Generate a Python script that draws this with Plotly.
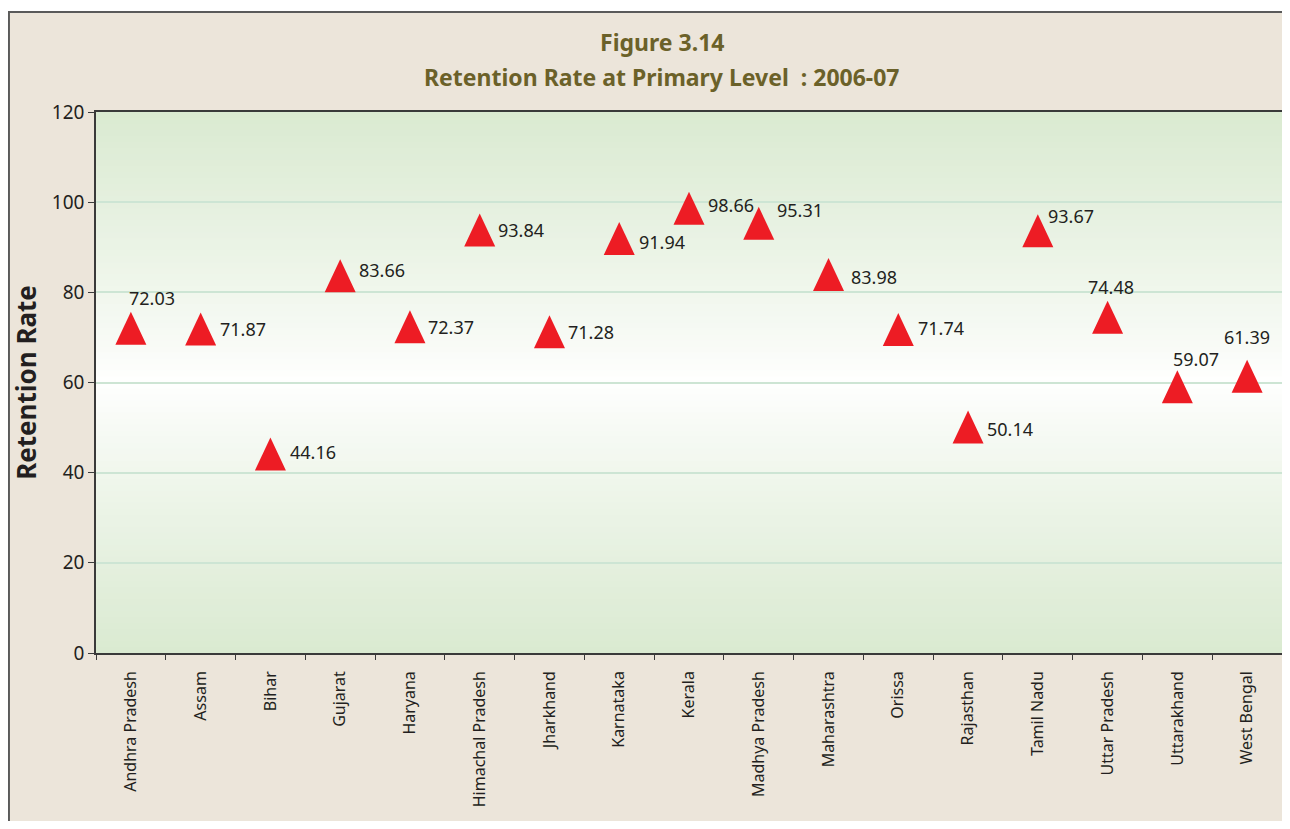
import plotly.graph_objects as go

# Retention rate at primary level, 2006-07
states = ["Andhra Pradesh", "Assam", "Bihar", "Gujarat", "Haryana",
          "Himachal Pradesh", "Jharkhand", "Karnataka", "Kerala",
          "Madhya Pradesh", "Maharashtra", "Orissa", "Rajasthan",
          "Tamil Nadu", "Uttar Pradesh", "Uttarakhand", "West Bengal"]
retention = [72.03, 71.87, 44.16, 83.66, 72.37, 93.84, 71.28, 91.94, 98.66,
             95.31, 83.98, 71.74, 50.14, 93.67, 74.48, 59.07, 61.39]
y_ticks = [0, 20, 40, 60, 80, 100, 120]

FONT = "Noto Sans"
BEIGE = "#ece5da"
RED = "#ed1c24"

# where each value label sits relative to its marker (anchor, dx, dy in px)
label_offsets = [("left", -4, 30), ("left", 17, 0), ("left", 18, 2),
                 ("left", 17, 6), ("left", 16, 0), ("left", 16, 0),
                 ("left", 17, 0), ("left", 18, -3), ("left", 17, 3),
                 ("left", 16, 13), ("left", 20, -3), ("left", 18, 2),
                 ("left", 17, -2), ("left", 8, 15), ("center", 3, 30),
                 ("center", 19, 28), ("center", 0, 39)]

fig = go.Figure()
fig.add_trace(go.Scatter(
    x=states, y=retention, mode="markers",
    marker=dict(size=30, color=RED, opacity=0),
    showlegend=False,
))

# outer frame of the figure panel
shapes = [dict(type="rect", xref="paper", yref="paper",
               x0=-0.0734, x1=1.05, y0=-0.4, y1=1.185,
               fillcolor=BEIGE, line=dict(color="#5a5a5a", width=2),
               layer="below")]

# green -> white -> green gradient behind the plot area
n = 90
top = (218, 234, 209)
for i in range(n):
    t = abs((i + 0.5) / n - 0.5) / 0.5
    r, g, b = (int(round(255 + (c - 255) * t ** 0.85)) for c in top)
    shapes.append(dict(type="rect", xref="paper", yref="paper",
                       x0=0, x1=1, y0=i / n, y1=(i + 1) / n + 0.002,
                       fillcolor=f"rgb({r},{g},{b})", line=dict(width=0),
                       layer="below"))

# red triangle markers (taller than plotly's built-in triangle)
for s, v in zip(states, retention):
    shapes.append(dict(type="path", xref="x", yref="y",
                       xsizemode="pixel", ysizemode="pixel",
                       xanchor=s, yanchor=v,
                       path="M-15.5,-16.5 L15.5,-16.5 L0,16.5 Z",
                       fillcolor=RED, line=dict(width=0), layer="above"))

annotations = [
    dict(text="Figure 3.14", xref="paper", yref="paper", x=0.477, y=1.129,
         xanchor="center", yanchor="middle", showarrow=False,
         font=dict(family=FONT, size=23, color="#6b6129", weight="bold")),
    dict(text="Retention Rate at Primary Level  : 2006-07",
         xref="paper", yref="paper", x=0.477, y=1.065,
         xanchor="center", yanchor="middle", showarrow=False,
         font=dict(family=FONT, size=23, color="#6b6129", weight="bold")),
]
for s, v, (anc, dx, dy) in zip(states, retention, label_offsets):
    annotations.append(dict(
        x=s, y=v, text=f"{v:.2f}", showarrow=False,
        xanchor=anc, yanchor="middle", xshift=dx, yshift=dy,
        font=dict(family=FONT, size=18, color="#231f20")))

fig.update_layout(
    width=1274, height=813,
    margin=dict(l=88, r=0, t=104, b=168),
    paper_bgcolor="white",
    plot_bgcolor="rgba(0,0,0,0)",
    shapes=shapes,
    annotations=annotations,
    font=dict(family=FONT, color="#231f20"),
)

fig.update_xaxes(
    type="category", range=[-0.5, len(states) - 0.5],
    showline=True, linecolor="#3a3a3a", linewidth=1.5, mirror=True,
    ticks="outside", tickson="boundaries", ticklen=5, tickcolor="#3a3a3a",
    tickangle=-90, ticklabelstandoff=10,
    tickfont=dict(family=FONT, size=16, color="#231f20"),
    showgrid=False,
)
fig.update_yaxes(
    range=[0, 120], tickvals=y_ticks,
    showline=True, linecolor="#3a3a3a", linewidth=1.5,
    ticks="outside", ticklen=6, tickcolor="#3a3a3a",
    tickfont=dict(family=FONT, size=19, color="#231f20"),
    showgrid=True, gridcolor="#cde5d4", gridwidth=1.5, zeroline=False,
    title=dict(text="<b>Retention Rate</b>", standoff=10,
               font=dict(family=FONT, size=26, color="#231f20")),
)

fig.write_html("out.html")
